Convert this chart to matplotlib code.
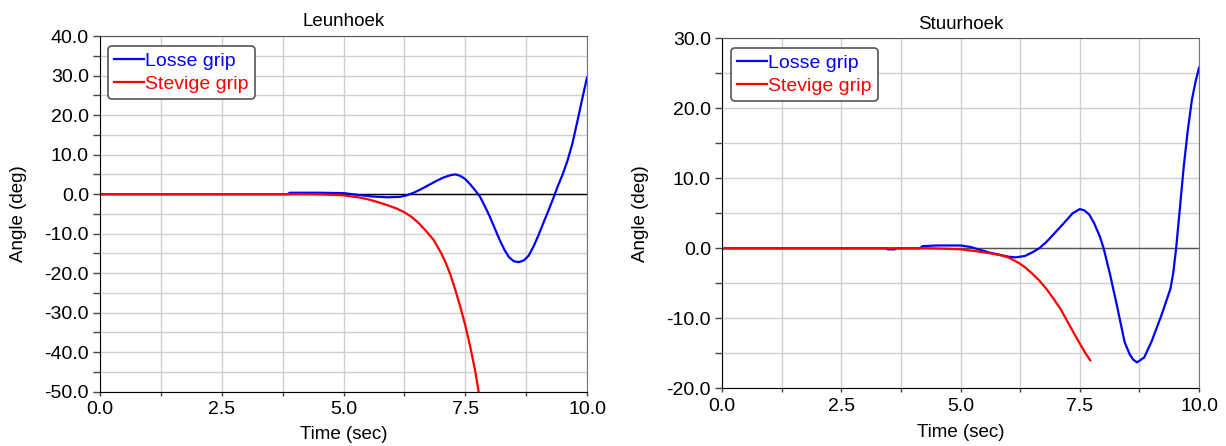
import matplotlib.pyplot as plt
from matplotlib.ticker import MultipleLocator, FormatStrFormatter

plt.rcParams['font.family'] = ['Liberation Sans', 'DejaVu Sans']

# Leunhoek (lean angle)
lean_t_loose = [0.0, 3.85, 3.9, 4.5, 5.0, 5.3, 5.6, 5.9, 6.15, 6.3, 6.45, 6.6, 6.75,
                6.9, 7.05, 7.2, 7.3, 7.4, 7.5, 7.6, 7.7, 7.8, 7.9, 8.0, 8.1, 8.2, 8.3,
                8.4, 8.5, 8.6, 8.7, 8.8, 8.9, 9.0, 9.1, 9.2, 9.3, 9.4, 9.5, 9.6, 9.7,
                9.8, 9.9, 10.0]
lean_loose = [0.0, 0.0, 0.35, 0.35, 0.25, -0.2, -0.6, -0.8, -0.7, -0.3, 0.4, 1.3, 2.3,
              3.3, 4.2, 4.8, 5.0, 4.6, 3.8, 2.5, 1.0, -0.6, -3.0, -5.6, -8.5, -11.4,
              -14.0, -16.0, -17.0, -17.2, -16.8, -15.6, -13.3, -10.5, -7.4, -4.4, -1.3,
              2.0, 5.0, 8.5, 12.8, 18.3, 24.0, 29.5]
lean_t_firm = [0.0, 4.3, 4.6, 5.0, 5.3, 5.5, 5.7, 5.9, 6.1, 6.25, 6.4, 6.55, 6.7, 6.85,
               7.0, 7.1, 7.2, 7.3, 7.4, 7.5, 7.6, 7.7, 7.77, 7.8]
lean_firm = [0.0, 0.0, -0.1, -0.3, -0.8, -1.3, -2.0, -2.8, -3.7, -4.6, -5.8, -7.4,
             -9.4, -11.6, -14.8, -17.4, -20.6, -24.4, -28.6, -33.2, -38.5, -44.5,
             -49.6, -53.0]

# Stuurhoek (steer angle)
steer_t_loose = [0.0, 3.45, 3.47, 3.62, 3.64, 4.15, 4.2, 4.5, 5.0, 5.2, 5.4, 5.6, 5.8,
                 6.0, 6.15, 6.35, 6.5, 6.65, 6.8, 6.95, 7.1, 7.22, 7.35, 7.5, 7.6, 7.7,
                 7.8, 7.92, 8.0, 8.13, 8.27, 8.44, 8.55, 8.62, 8.7, 8.85, 9.0, 9.2, 9.3,
                 9.4, 9.46, 9.52, 9.6, 9.68, 9.76, 9.85, 9.93, 10.0]
steer_loose = [0.0, 0.0, -0.15, -0.15, 0.0, 0.0, 0.3, 0.4, 0.4, 0.2, -0.2, -0.6, -0.9,
               -1.2, -1.3, -1.1, -0.6, 0.0, 0.9, 2.0, 3.1, 4.0, 5.0, 5.6, 5.4, 4.8,
               3.6, 1.7, 0.0, -3.6, -7.9, -13.4, -15.2, -15.9, -16.3, -15.6, -13.4,
               -9.8, -7.8, -5.8, -3.5, 0.0, 5.8, 11.7, 16.6, 21.2, 23.9, 25.8]
steer_t_firm = [0.0, 4.3, 4.6, 5.0, 5.3, 5.6, 5.82, 6.0, 6.2, 6.35, 6.5, 6.65, 6.8, 6.95,
                7.1, 7.22, 7.35, 7.5, 7.62, 7.72]
steer_firm = [0.0, 0.0, -0.05, -0.15, -0.4, -0.7, -0.95, -1.3, -2.0, -2.7, -3.6, -4.6,
              -5.8, -7.2, -8.7, -10.2, -11.8, -13.6, -15.0, -16.0]

fig = plt.figure(figsize=(12.26, 4.46), dpi=100)
ax1 = fig.add_axes([0.0816, 0.1217, 0.3972, 0.7975])
ax2 = fig.add_axes([0.5889, 0.1294, 0.3891, 0.7848])


def style(ax, title, ylim, zero_color, ylab_x, xlab_y):
    ax.axhline(0, color=zero_color, lw=1.0, zorder=1)
    ax.set_xlim(0, 10)
    ax.set_ylim(*ylim)
    ax.xaxis.set_major_locator(MultipleLocator(2.5))
    ax.xaxis.set_minor_locator(MultipleLocator(1.25))
    ax.yaxis.set_major_locator(MultipleLocator(10))
    ax.yaxis.set_minor_locator(MultipleLocator(5))
    ax.xaxis.set_major_formatter(FormatStrFormatter('%.1f'))
    ax.yaxis.set_major_formatter(FormatStrFormatter('%.1f'))
    ax.grid(True, which='both', color='#d0d0d0', lw=1.0, zorder=0)
    ax.tick_params(axis='y', which='both', direction='out', length=5, width=1,
                   colors='#444444', labelcolor='black', labelsize=14, pad=3)
    ax.tick_params(axis='x', which='both', direction='out', length=3, width=1,
                   colors='#444444', labelcolor='black', labelsize=14, pad=4)
    ax.spines['left'].set_color('black')
    ax.spines['bottom'].set_color('black')
    ax.spines['top'].set_color('#555555')
    ax.spines['right'].set_color('#777777')
    ax.set_title(title, fontsize=13.5, pad=7)
    ax.set_xlabel('Time (sec)', fontsize=13.5)
    ax.set_ylabel('Angle (deg)', fontsize=13.5)
    ax.yaxis.set_label_coords(ylab_x, 0.5)
    ax.xaxis.set_label_coords(0.5, xlab_y)
    ax.set_axisbelow(True)


ax1.plot(lean_t_loose, lean_loose, color='blue', lw=1.6, label='Losse grip')
ax1.plot(lean_t_firm, lean_firm, color='red', lw=1.6, label='Stevige grip')
style(ax1, 'Leunhoek', (-50, 40), 'black', -0.149, -0.097)

ax2.plot(steer_t_loose, steer_loose, color='blue', lw=1.6, label='Losse grip')
ax2.plot(steer_t_firm, steer_firm, color='red', lw=1.6, label='Stevige grip')
style(ax2, 'Stuurhoek', (-20, 30), '#555555', -0.152, -0.103)

for ax, x0 in ((ax1, 0.0164), (ax2, 0.019)):
    leg = ax.legend(loc='upper left', bbox_to_anchor=(x0, 0.972), fontsize=14,
                    handlelength=1.55, handletextpad=0.05, borderpad=0.32,
                    labelspacing=0.28, borderaxespad=0.0, fancybox=True,
                    framealpha=1)
    leg.get_frame().set_edgecolor('#555555')
    leg.get_frame().set_linewidth(1.2)
    for txt, line in zip(leg.get_texts(), leg.get_lines()):
        txt.set_color(line.get_color())

fig.savefig('out.png', dpi=100)
